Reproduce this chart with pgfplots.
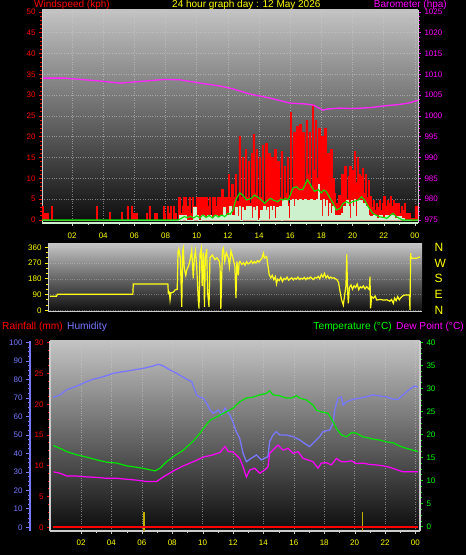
\documentclass[border=0pt]{standalone}
\usepackage{pgfplots}
\pgfplotsset{compat=1.18}
\usepackage{fontspec}
\setmainfont{Liberation Sans}
\setsansfont{Liberation Sans}

\definecolor{wred}{RGB}{255,0,0}
\definecolor{wyel}{RGB}{255,255,0}
\definecolor{wmag}{RGB}{255,0,255}
\definecolor{wblue}{RGB}{120,120,255}
\definecolor{wgreen}{RGB}{0,230,0}
\definecolor{wgreentxt}{RGB}{0,255,0}
\definecolor{wpale}{RGB}{205,240,205}
\definecolor{wgrid}{RGB}{205,205,205}
\definecolor{bgtop}{RGB}{195,195,195}
\definecolor{bgbot}{RGB}{12,12,12}
\definecolor{wolive}{RGB}{190,175,0}

\pgfplotsset{
  wx/.style={
    scale only axis, anchor=south west,
    tick label style={font=\fontsize{8}{8}\selectfont},
    /pgf/number format/assume math mode=true,
    /pgf/number format/1000 sep={},
    tick align=outside,
    major tick length=3pt, minor tick length=2pt,
    clip=true,
  },
  wbg/.style={axis background/.style={shade, top color=bgtop, bottom color=bgbot}},
  wgridst/.style={major grid style={draw=wgrid, dotted, line width=0.6pt, opacity=0.55}},
}

\begin{document}
\begin{tikzpicture}[x=1pt,y=1pt]
\useasboundingbox (0,0) rectangle (466,555);
\fill[black] (0,0) rectangle (466,555);

% ---------------- top panel: wind speed ----------------
\begin{axis}[wx, wbg, wgridst, at={(42pt,332pt)}, width=376pt, height=213pt,
  xmin=0.07, xmax=24.2, ymin=-0.72, ymax=50.48,
  axis x line*=bottom, axis y line*=left,
  x axis line style={-, draw=wpale, line width=2pt},
  y axis line style={-, draw=wgrid, line width=1pt},
  xtick={2,4,...,24}, xticklabels={02,04,06,08,10,12,14,16,18,20,22,00},
  minor x tick num=1,
  ytick={0,5,...,50}, minor y tick num=4,
  x tick label style={text=wyel, yshift=-3pt},
  y tick label style={text=wred},
  x tick style={draw=wgrid}, y tick style={draw=wred, line width=0.8pt},
  grid=major]
\addplot[wred, fill=wred, line width=0.6pt, const plot] coordinates {
(0.07,3.4)(0.16,1.6)(0.45,0)(0.66,3.4)(0.74,0)(3.55,3.4)(3.63,0)(4.40,1.8)(4.48,0)
(5.15,1.8)(5.23,0)(5.52,3.4)(5.60,0)(5.80,3.4)(5.88,1.6)(6.20,0)(6.76,1.6)(6.84,0)
(6.93,3.4)(7.01,0)(7.30,1.6)(7.47,0)(7.84,3.4)(7.92,1.6)(8.00,0)(8.10,3.4)(8.18,1.6)
(8.30,3.4)(8.38,0)(8.50,3.4)(8.58,1.6)(8.70,0)(8.80,5.4)(8.95,1.6)(9.05,3.4)(9.15,5.4)
(9.30,0)(9.40,3.4)(9.50,5.4)(9.60,1.6)(9.70,5.4)(9.80,3.4)(9.90,0)(10.00,5.4)(10.20,3.4)
(10.30,5.4)(10.40,1.6)(10.50,5.4)(10.70,3.4)(10.80,5.4)(10.90,0)(11.00,5.4)(11.20,3.4)
(11.30,5.4)(11.50,1.6)(11.60,7.3)(11.70,3.4)(11.80,5.4)(12.05,10.9)(12.12,5.4)(12.25,8.5)
(12.35,5.4)(12.45,11)(12.55,4.5)
(12.7,20)(12.8,5.5)(12.9,15)(13.0,5)(13.1,17)(13.2,5.5)(13.3,14)(13.4,4)(13.5,16)(13.6,20.5)
(13.7,6.5)(13.8,17)(13.9,5)(14.0,15)(14.1,5.5)(14.2,18)(14.3,4)(14.4,18.5)(14.5,6.5)(14.6,16)
(14.7,5)(14.8,15)(14.9,5.5)(15.0,17)(15.1,4)(15.2,14)(15.3,5.5)(15.4,16.5)(15.5,5)(15.6,13)
(15.7,6.5)(15.8,15)(15.9,4)(16.0,25.8)(16.1,7)(16.2,21)(16.3,17)(16.4,22.5)(16.5,8)(16.6,23)
(16.7,13)(16.8,21)(16.9,9)(17.0,24)(17.1,11)(17.2,21)(17.3,8)(17.4,27.5)(17.5,12)(17.6,24)
(17.7,10)(17.8,22)(17.9,14)(18.0,20)(18.1,8)(18.2,22)(18.3,9)(18.4,16)(18.5,6.5)(18.6,17)
(18.7,10)(18.8,6.5)(18.9,4)(19.0,3)(19.1,6)(19.2,4)(19.3,11)(19.4,6)(19.5,13)(19.6,5)
(19.7,10.5)(19.8,13)(19.9,7)(20.0,12)(20.1,16.5)(20.2,9)(20.3,15)(20.4,11)(20.5,10.5)
(20.6,12.5)(20.7,6.5)(20.8,11)(20.9,5.5)(21.0,9.5)(21.1,5.6)(21.2,3)(21.3,4.8)(21.4,2.4)(21.5,4)
(21.6,3)(21.7,4.8)(21.8,2.4)(21.9,4)(22.0,5.6)(22.1,3.2)(22.2,4.8)(22.3,4)(22.4,5.6)(22.5,3.2)
(22.6,4.8)(22.7,4)(22.8,2)(22.9,4)(23.0,1.6)(23.1,3.2)(23.2,2.4)(23.3,4)(23.4,1.6)(23.5,0.4)
(23.6,1.6)(23.7,0.4)(24.0,3.4)(24.2,3.4)} \closedcycle;
\addplot[wpale, fill=wpale, line width=0.5pt, const plot] coordinates {
(0.07,0)(8.9,1.2)(9.0,0)(9.1,1.2)(9.3,0)(9.8,3)(9.95,1.2)(10.1,0)(10.3,1.2)(10.5,0.6)
(10.7,1.2)(10.9,0.4)(11.1,1.2)(11.3,0.8)(11.5,1.2)(11.7,3)(11.8,1.2)(12.0,0.6)(12.1,3.2)
(12.2,1.2)(12.5,3)(12.6,0.8)(12.7,3.2)(12.8,0)(12.9,3)(13.0,2.4)(13.1,0.2)(13.2,3.2)
(13.3,2.4)(13.4,3.2)(13.5,0.4)(13.6,3)(13.7,2.4)(13.8,3.2)(13.9,0)(14.0,0.4)(14.1,2.4)
(14.2,0.4)(14.3,3.2)(14.4,2.4)(14.5,3)(14.6,0.2)(14.7,3.2)(14.8,2.4)(14.9,3.2)(15.0,0.4)
(15.1,3)(15.2,2.4)(15.3,3.2)(15.4,0)(15.5,4.8)(15.6,2.4)(15.7,4.8)(15.8,3.2)(15.9,0.4)
(16.0,4.8)(16.1,5)(16.2,3.2)(16.3,5)(16.4,4.8)(16.5,0.8)(16.6,5)(16.7,3.2)(16.8,4.8)(16.9,5)
(17.0,0.8)(17.1,4.8)(17.2,3.2)(17.3,5)(17.4,0.4)(17.5,4.8)(17.6,3.2)(17.7,5)(17.8,8.5)
(17.85,3.2)(17.9,4.8)(18.0,0.8)(18.1,5)(18.2,3.2)(18.3,4.8)(18.4,0.8)(18.5,4)(18.6,1.6)
(18.7,3.2)(18.8,0.8)(18.9,1.2)(19.0,0.4)(19.1,1.2)(19.2,0.4)(19.3,1.6)(19.4,3.2)(19.5,0.8)
(19.6,4.8)(19.7,3.2)(19.8,0.4)(19.9,4.8)(20.0,3.2)(20.1,5)(20.2,0.8)(20.3,4.8)(20.4,3.2)
(20.5,4.8)(20.6,0.8)(20.7,4)(20.8,1.6)(20.9,3.2)(21.0,1.2)(21.1,0.8)(21.3,1.2)(21.5,0.4)
(21.7,1.2)(21.9,0.4)(22.1,1.2)(22.3,0.8)(22.5,1.2)(22.7,0.4)(22.9,0.8)(23.1,0.4)(23.3,0)(24.2,0)} \closedcycle;
\addplot[wgreen, line width=1.1pt] coordinates {
(0.07,0)(8.8,0)(9.0,0.4)(9.2,0.8)(9.4,0.6)(9.6,0.9)(9.8,0.5)(10.0,1.0)(10.2,0.5)(10.4,1.2)
(10.6,0.6)(10.8,1.1)(11.0,0.5)(11.2,1.2)(11.4,0.7)(11.6,1.2)(11.8,0.8)(12.0,1.6)(12.15,1.4)
(12.33,2.4)(12.5,4.8)(12.76,6.5)(12.95,6)(13.2,4.8)(13.5,5.2)(13.7,6)(13.9,5.5)(14.15,4.8)
(14.36,4)(14.58,4.8)(14.75,5.2)(14.9,4.8)(15.2,4.4)(15.4,5)(15.54,4.8)(15.7,5.2)(15.86,4.8)
(16.0,6)(16.18,7.7)(16.4,8)(16.6,7.3)(16.8,7.3)(16.95,8.5)(17.1,9.7)(17.25,8.8)(17.36,8)
(17.57,6.9)(17.8,7.3)(18.0,6.5)(18.15,7.2)(18.3,6.9)(18.5,5.6)(18.75,4)(18.96,2.4)(19.2,2.8)
(19.4,4)(19.6,4.4)(19.8,4)(20.0,4.4)(20.2,4.6)(20.35,4.8)(20.57,5.6)(20.78,4.8)(21.0,3.2)
(21.3,1.6)(21.5,1.2)(21.7,0.8)(22.0,0.6)(22.2,0.4)(22.45,1.2)(22.6,1.6)(22.8,0.8)(23.0,0.4)
(23.2,0)(24.2,0)};
\end{axis}

% barometer axis
\begin{axis}[wx, at={(42pt,332pt)}, width=376pt, height=213pt,
  xmin=0.07, xmax=24.2, ymin=974.28, ymax=1025.48,
  axis x line=none, axis y line*=right,
  y axis line style={-, draw=wgrid, line width=1pt},
  ytick={975,980,...,1025}, minor y tick num=4,
  y tick label style={text=wmag}, y tick style={draw=wmag, line width=0.8pt}]
\addplot[wmag!85!white, line width=1.3pt] coordinates {
(0.13,1009.1)(1.55,1009.1)(2.83,1008.7)(3.79,1008.4)(5.08,1007.9)(6.36,1008.3)(7.97,1008.8)
(8.93,1008.7)(10.21,1007.9)(11.5,1007.2)(12.33,1006.5)(13.4,1005.3)(14.7,1004.3)(15.99,1003.1)
(16.95,1002.9)(17.5,1002.6)(18.1,1001.4)(18.4,1001.7)(19.2,1001.9)(20.0,1001.8)(21.1,1002.0)
(21.96,1002.4)(23.05,1002.8)(23.7,1003.2)(24.2,1003.8)};
\end{axis}

% ---------------- middle panel: wind direction ----------------
\begin{axis}[wx, wbg, at={(48pt,243pt)}, width=374pt, height=68pt,
  xmin=0.456, xmax=24.46, ymin=-9.7, ymax=378.9,
  axis x line*=bottom, axis y line*=left,
  x axis line style={-, draw=wgrid, line width=1pt},
  y axis line style={-, draw=wgrid, line width=1pt},
  xtick=\empty,
  ytick={0,90,180,270,360}, minor y tick num=2,
  y tick label style={text=wyel}, y tick style={draw=wyel, line width=0.8pt},
  ymajorgrids, major grid style={draw=wgrid, dotted, line width=0.5pt, opacity=0.4}]
\addplot[wyel!90!white, line width=1.2pt] coordinates {
(0.58,80)(1.0,80)(1.05,92)(5.9,92)(5.93,150)(8.15,150)(8.18,97)(8.25,103)(8.29,60)(8.35,100)
(8.5,104)(8.61,116)(8.75,120)(8.8,335)(8.85,350)(8.95,300)(9.04,20)(9.1,340)(9.14,355)
(9.2,240)(9.3,200)(9.36,230)(9.5,260)(9.6,300)(9.68,345)(9.78,183)(9.85,300)(9.92,340)
(10.0,250)(10.1,60)(10.15,10)(10.21,320)(10.3,355)(10.35,140)(10.43,330)(10.5,20)(10.55,300)
(10.64,350)(10.7,100)(10.79,20)(10.85,300)(11.0,316)(11.17,290)(11.3,300)(11.45,280)
(11.5,250)(11.55,8)(11.65,340)(11.71,355)(11.8,280)(11.9,330)(12.03,300)(12.1,250)(12.2,340)
(12.35,290)(12.45,250)(12.52,69)(12.58,280)(12.67,200)(12.72,270)(12.78,280)(12.9,262)
(13.0,272)(13.1,258)(13.2,278)(13.3,265)(13.42,272)(13.5,283)(13.6,268)(13.7,278)(13.8,270)
(13.9,284)(14.0,276)(14.1,288)(14.2,300)(14.28,326)(14.35,298)(14.49,307)(14.58,250)
(14.65,205)(14.75,185)(14.85,200)(14.95,175)(15.05,192)(15.12,150)(15.2,178)(15.3,170)
(15.4,188)(15.5,165)(15.6,182)(15.7,176)(15.8,190)(15.9,172)(16.0,180)(16.1,186)(16.2,174)
(16.3,184)(16.4,178)(16.5,190)(16.6,176)(16.7,183)(16.8,178)(16.9,188)(17.0,175)(17.1,186)
(17.2,180)(17.3,190)(17.4,182)(17.5,176)(17.6,188)(17.7,184)(17.8,194)(17.9,180)(18.0,205)
(18.1,190)(18.2,211)(18.3,185)(18.4,198)(18.5,182)(18.6,190)(18.7,183)(18.8,186)(18.9,180)
(19.0,175)(19.1,160)(19.2,107)(19.3,60)(19.41,30)(19.5,90)(19.58,140)(19.63,320)(19.68,120)
(19.73,40)(19.8,130)(19.9,145)(20.0,120)(20.1,140)(20.2,130)(20.3,150)(20.4,118)(20.5,135)
(20.6,128)(20.7,140)(20.8,122)(20.91,135)(21.0,126)(21.08,118)(21.12,192)(21.16,11)
(21.23,78)(21.35,70)(21.45,82)(21.55,59)(21.8,62)(22.0,58)(22.2,60)(22.4,52)(22.5,62)
(22.62,40)(22.7,70)(22.8,55)(22.9,78)(23.0,60)(23.1,72)(23.26,85)(23.4,88)(23.65,88)
(23.69,2)(23.73,326)(23.76,297)(24.1,297)(24.33,305)};
\end{axis}
\begin{axis}[wx, at={(48pt,243pt)}, width=374pt, height=68pt,
  xmin=0.456, xmax=24.46, ymin=-9.7, ymax=378.9,
  axis x line=none, axis y line*=right, y axis line style={draw=none},
  ytick={0,90,180,270,360}, yticklabels={N,E,S,W,N}, major tick length=0pt,
  y tick label style={text=wyel, font=\fontsize{12}{12}\selectfont, xshift=9pt}]
\end{axis}

% ---------------- bottom panel ----------------
\begin{axis}[wx, wbg, wgridst, at={(50pt,24pt)}, width=370pt, height=190pt,
  xmin=-0.04, xmax=24.3, ymin=-2.0, ymax=100.9,
  axis x line*=bottom, axis y line=none,
  x axis line style={-, draw=wgrid, line width=1.2pt},
  xtick={2,4,...,24}, xticklabels={02,04,06,08,10,12,14,16,18,20,22,00},
  minor x tick num=1,
  ytick={0,10,...,100}, yticklabel={}, y tick style={draw=none},
  x tick label style={text=wyel, yshift=-2pt},
  x tick style={draw=wgrid},
  grid=major]
\addplot[wblue, line width=1.3pt] coordinates {
(0.18,70.4)(0.62,71.7)(1.06,74.5)(1.72,76.5)(2.37,78.9)(2.81,80.2)(3.47,81.6)(4.12,83.4)
(4.78,84.3)(5.44,85.2)(6.1,86.1)(6.76,87.4)(7.09,88.3)(7.41,87.4)(7.85,85.2)(8.29,83.4)
(8.95,80.2)(9.28,78.9)(9.6,71.7)(9.83,70.4)(10.05,69.9)(10.27,67.2)(10.49,63.5)(10.7,61.7)
(11.03,63.5)(11.25,60.8)(11.47,64.5)(11.8,60.8)(12.0,56.8)(12.2,52)(12.44,48.2)(12.66,40.1)
(12.88,35.5)(13.2,37.4)(13.54,39.2)(13.86,36.5)(14.08,37.4)(14.3,38.3)(14.41,46.4)(14.63,50.0)
(14.85,51.8)(15.07,50.0)(15.5,50)(15.95,49.1)(16.39,47.3)(16.7,45.5)(17.04,43.7)(17.37,46.4)
(17.7,49.1)(17.92,51.8)(18.36,52.7)(18.58,56.3)(18.69,63.5)(18.9,69.9)(19.13,70.7)(19.24,66.2)
(19.46,68.0)(19.9,69.3)(20.33,69.9)(20.77,70.7)(21.2,71.7)(21.65,71.1)(22.09,70.7)(22.53,69.3)
(22.86,69.3)(23.18,71.7)(23.62,74.8)(23.95,76.5)(24.17,76.0)};
\end{axis}

% rainfall axis
\begin{axis}[wx, at={(50pt,24pt)}, width=370pt, height=190pt,
  xmin=-0.04, xmax=24.3, ymin=-0.6, ymax=30.28,
  axis x line=none, axis y line*=left,
  y axis line style={-, draw=wgrid, line width=1.2pt},
  ytick={0,5,...,30}, minor y tick num=3,
  y tick label style={text=wred}, y tick style={draw=wred, line width=0.8pt}]
\addplot[wolive, line width=1.5pt] coordinates {(6.16,-0.6)(6.16,2.5)};
\addplot[wolive, line width=1.5pt] coordinates {(20.53,-0.6)(20.53,2.5)};
\addplot[wred, line width=2pt] coordinates {(0.15,0)(24.2,0)};
\end{axis}

% temperature axis
\begin{axis}[wx, at={(50pt,24pt)}, width=370pt, height=190pt,
  xmin=-0.04, xmax=24.3, ymin=-0.93, ymax=40.28,
  axis x line=none, axis y line*=right,
  y axis line style={-, draw=wgrid, line width=1.2pt},
  ytick={0,5,...,40}, minor y tick num=3,
  y tick label style={text=wgreentxt}, y tick style={draw=wgreen, line width=0.8pt}]
\addplot[wgreen, line width=1.2pt] coordinates {
(0.18,17.6)(0.62,17.0)(1.06,16.3)(1.71,15.6)(2.37,15.1)(3.03,14.5)(3.69,14.0)(4.35,13.8)
(5.0,13.2)(5.66,12.9)(6.32,12.5)(6.87,12.1)(7.2,12.7)(7.63,14.1)(8.08,15.2)(8.73,16.6)
(9.39,18.6)(9.83,20.3)(10.05,21.3)(10.49,23.1)(11.14,24.2)(12.0,25.7)(12.44,27.1)(12.88,27.9)
(13.32,28.1)(13.75,28.6)(14.19,28.9)(14.41,29.5)(14.63,28.6)(15.07,28.4)(15.5,27.9)
(15.84,27.9)(16.17,28.4)(16.39,27.9)(16.82,27.5)(17.26,26.4)(17.48,25.3)(17.81,24.9)
(18.25,24.6)(18.58,22.8)(18.8,21.3)(19.13,19.9)(19.46,19.5)(19.8,20.4)(20.1,20.3)(20.55,19.5)
(20.99,19.2)(21.2,19.0)(21.65,18.8)(22.09,18.4)(22.53,18.2)(22.96,17.5)(23.4,17.0)(23.84,16.6)
(24.17,16.3)};
\addplot[wmag, line width=1.2pt] coordinates {
(0.18,11.9)(0.62,11.6)(1.06,11.0)(1.71,11.0)(2.37,10.8)(3.03,10.7)(3.69,10.5)(4.35,10.5)
(5.0,10.3)(5.66,10.1)(6.32,9.8)(6.98,9.8)(7.41,10.8)(8.08,12.1)(8.73,13.2)(9.39,14.1)
(10.05,15.1)(10.7,15.6)(11.14,16.1)(11.47,17.4)(11.69,16.3)(12.0,16.2)(12.2,15.6)(12.44,14.8)
(12.66,13.0)(12.88,10.8)(13.1,12.3)(13.43,12.7)(13.75,11.6)(14.08,12.3)(14.3,13.0)(14.41,15.9)
(14.74,17.0)(14.96,17.7)(15.29,16.6)(15.62,17.0)(15.95,15.9)(16.28,16.3)(16.61,14.8)
(16.93,14.5)(17.26,14.1)(17.59,12.7)(17.81,13.8)(18.14,13.9)(18.47,13.4)(18.8,14.8)
(19.13,14.1)(19.46,14.1)(19.8,14.3)(20.1,13.7)(20.55,13.8)(20.99,13.5)(21.43,13.4)(21.87,13.2)
(22.3,12.9)(22.74,12.4)(23.18,11.9)(23.62,11.9)(24.17,11.9)};
\end{axis}

% humidity axis (offset spine)
\begin{axis}[wx, at={(30pt,24pt)}, width=1pt, height=190pt,
  xmin=0, xmax=1, ymin=-2.0, ymax=100.9,
  axis x line=none, axis y line*=left,
  y axis line style={-, draw=wblue, line width=2.2pt},
  ytick={0,10,...,100}, minor y tick num=3, major tick length=4pt,
  y tick label style={text=wblue}, y tick style={draw=wblue, line width=0.8pt}]
\end{axis}

% titles
\node[anchor=base west, text=wred, font=\fontsize{10}{10}\selectfont, inner sep=0] at (34,547.3) {Windspeed (kph)};
\node[anchor=base west, text=wyel, font=\fontsize{10}{10}\selectfont, inner sep=0] at (172,547.3) {24 hour graph day : 12 May 2026};
\node[anchor=base east, text=wmag, font=\fontsize{10}{10}\selectfont, inner sep=0] at (447,547.3) {Barometer (hpa)};
\node[anchor=base west, text=wred, font=\fontsize{10.2}{10.2}\selectfont, inner sep=0] at (2,225.5) {Rainfall (mm)};
\node[anchor=base west, text=wblue, font=\fontsize{10.2}{10.2}\selectfont, inner sep=0] at (67,225.5) {Humidity};
\node[anchor=base east, text=wgreentxt, font=\fontsize{10.2}{10.2}\selectfont, inner sep=0] at (392,225.5) {Temperature (°C)};
\node[anchor=base east, text=wmag, font=\fontsize{10.2}{10.2}\selectfont, inner sep=0] at (464,225.5) {Dew Point (°C)};
\end{tikzpicture}
\end{document}
